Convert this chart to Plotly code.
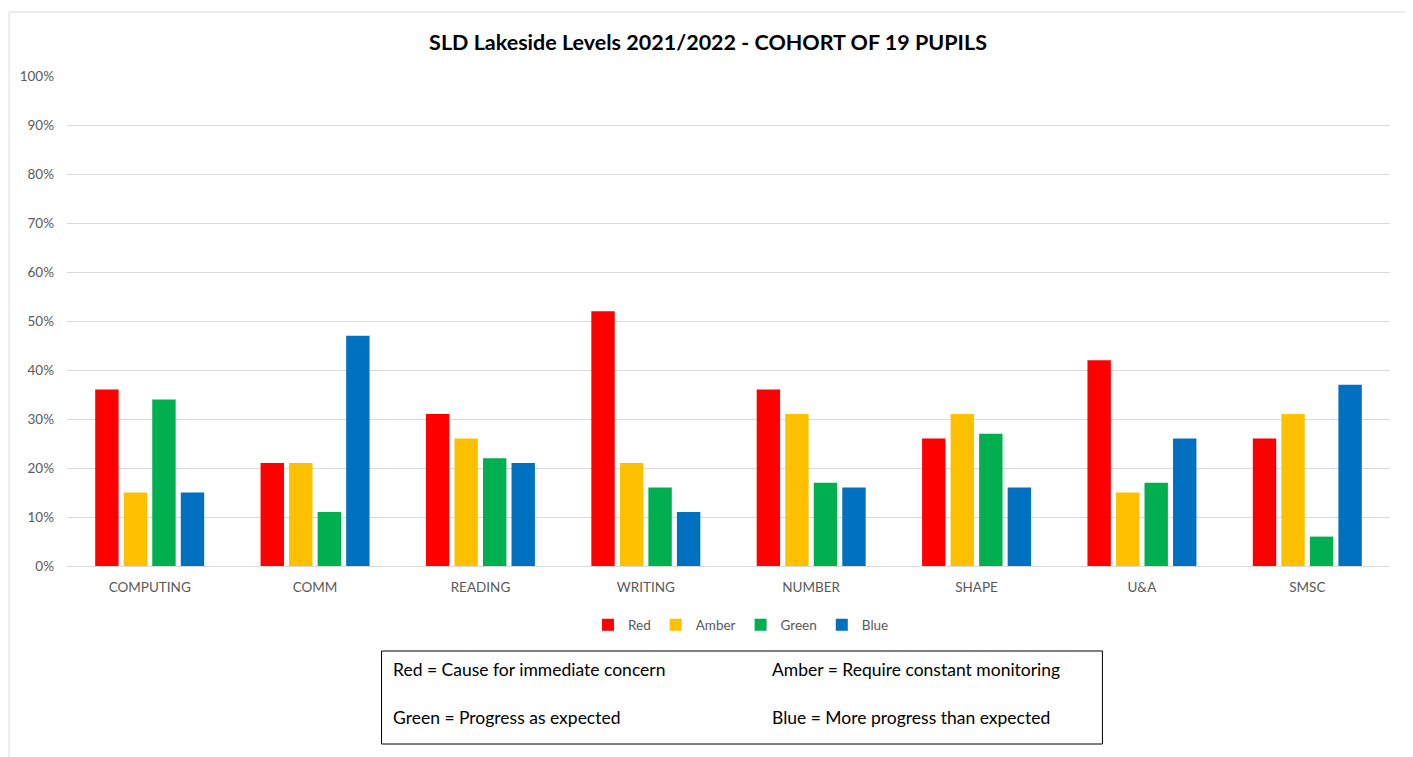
import plotly.graph_objects as go

# Subjects along the x axis
subjects = ["COMPUTING", "COMM", "READING", "WRITING", "NUMBER", "SHAPE", "U&A", "SMSC"]

# Percentage of pupils in each band
red = [36, 21, 31, 52, 36, 26, 42, 26]
amber = [15, 21, 26, 21, 31, 31, 15, 31]
green = [34, 11, 22, 16, 17, 27, 17, 6]
blue = [15, 47, 21, 11, 16, 16, 26, 37]

series_names = ["Red", "Amber", "Green", "Blue"]
colours = ["#FF0000", "#FFC000", "#00B050", "#0070C0"]

key_left = ["Red = Cause for immediate concern", "Green = Progress as expected"]
key_right = ["Amber = Require constant monitoring", "Blue = More progress than expected"]

font_name = "Lato, Carlito, 'Liberation Sans', sans-serif"

fig = go.Figure()
for name, vals, col in zip(series_names, [red, amber, green, blue], colours):
    fig.add_trace(go.Bar(x=subjects, y=vals, name=name, marker_color=col,
                         marker_line_width=0))

# page body has an 8px margin, so the figure is a bit smaller and shifted
OFF = 8
W, H = 1413 - OFF, 757 - OFF
# plot area in page pixels: left 65, right 1390, top 76, bottom 566
L, R, T, B = 65 - OFF, 1390 - OFF, 76 - OFF, 566 - OFF
pw, ph = R - L, B - T


def px(x):
    return (x - OFF - L) / pw


def py(y):
    return (B - (y - OFF)) / ph


shapes = [
    # outer chart frame
    dict(type="rect", xref="paper", yref="paper", x0=px(7), x1=px(1407), y0=py(800), y1=py(12),
         line=dict(color="#D9D9D9", width=1), fillcolor="rgba(0,0,0,0)", layer="below"),
    # key box
    dict(type="rect", xref="paper", yref="paper", x0=px(380), x1=px(1102), y0=py(744), y1=py(651),
         line=dict(color="black", width=1), fillcolor="white"),
]

annotations = []
for i, (lt, rt) in enumerate(zip(key_left, key_right)):
    yy = py([670, 717][i])
    annotations.append(dict(text=lt, xref="paper", yref="paper", x=px(389), y=yy,
                            xanchor="left", yanchor="middle", showarrow=False,
                            font=dict(size=17.5, color="black", family=font_name)))
    annotations.append(dict(text=rt, xref="paper", yref="paper", x=px(769), y=yy,
                            xanchor="left", yanchor="middle", showarrow=False,
                            font=dict(size=17.5, color="black", family=font_name)))

fig.update_layout(
    width=W, height=H,
    margin=dict(l=L, r=W - R, t=T, b=H - B),
    paper_bgcolor="white", plot_bgcolor="white",
    font=dict(family=font_name, color="#595959", size=13.5),
    title=dict(text="<b>SLD Lakeside Levels 2021/2022 - COHORT OF 19 PUPILS</b>",
               x=px(707), xref="paper", xanchor="center",
               y=1 - (42 - OFF) / H, yanchor="middle",
               font=dict(size=21.5, color="black", family=font_name)),
    barmode="group", bargap=0.31, bargroupgap=0.18,
    showlegend=True,
    legend=dict(orientation="h", x=px(740), xanchor="center", y=py(625), yanchor="middle",
                font=dict(size=13.5, color="#595959"), traceorder="normal",
                itemwidth=30),
    shapes=shapes,
    annotations=annotations,
)

fig.update_yaxes(range=[0, 100], dtick=10, ticksuffix="%", showgrid=True,
                 gridcolor="#D9D9D9", gridwidth=1, zeroline=False,
                 showline=False, ticks="", ticklabelstandoff=12)
fig.update_xaxes(showline=True, linecolor="#D9D9D9", linewidth=1, ticks="",
                 showgrid=False, ticklabelstandoff=9)

fig.write_html("out.html")
